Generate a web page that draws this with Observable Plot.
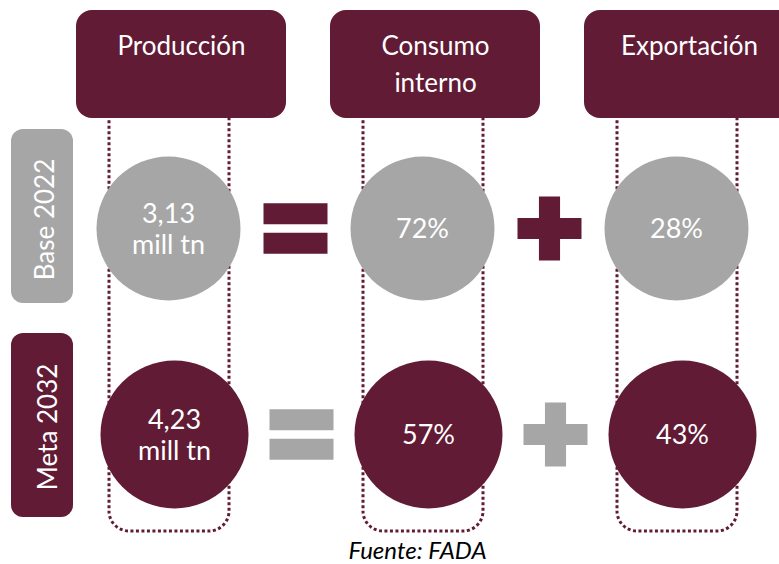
<!DOCTYPE html>
<html>
<head>
<meta charset="utf-8">
<script src="https://cdn.jsdelivr.net/npm/d3@7"></script>
<script src="https://cdn.jsdelivr.net/npm/@observablehq/plot@0.6"></script>
<style>
  body { margin: 0; background: #ffffff; }
  #chart svg { display: block; }
  #caption {
    width: 779px; box-sizing: border-box; padding-left: 56px;
    text-align: center; font-family: Lato, sans-serif; font-style: italic;
    font-size: 24px; line-height: 27px; color: #000000;
  }
</style>
</head>
<body>
<div id="chart"></div>
<div id="caption">Fuente: FADA</div>
<script>
// ---- data ----
const columns = ["Producción", "Consumo interno", "Exportación"];
const headerLabels = ["Producción", "Consumo\ninterno", "Exportación"];
const rows = ["Base 2022", "Meta 2032"];
const produccion = ["3,13", "4,23"];      // mill tn
const produccionUnit = "mill tn";
const consumoInterno = [72, 57];          // %
const exportacion = [28, 43];             // %
const operators = ["=", "+"];             // between consecutive columns

// ---- styles ----
const MAROON = "#611b35";
const GRAY = "#a6a6a6";
const rowStyle = [
  {fill: GRAY, opFill: MAROON, dx: -3, r: 72, insetTop: 4, insetBottom: 28, labelDx: 45, labelDy: -9},
  {fill: MAROON, opFill: GRAY, dx: 3, r: 74, insetTop: 2, insetBottom: 20, labelDx: 48, labelDy: -7.5}
];
const HALF_STEP = 127;

// custom operator symbols
const equalsSymbol = {
  draw(ctx, size) {
    const a = Math.sqrt(size / Math.PI), g = 0.13 * a, t = 0.66 * a;
    ctx.rect(-a, -g - t, 2 * a, t);
    ctx.rect(-a, g, 2 * a, t);
  }
};
const plusSymbol = {
  draw(ctx, size) {
    const a = Math.sqrt(size / Math.PI), h = 0.33 * a;
    ctx.moveTo(-a, -h); ctx.lineTo(-h, -h); ctx.lineTo(-h, -a); ctx.lineTo(h, -a);
    ctx.lineTo(h, -h); ctx.lineTo(a, -h); ctx.lineTo(a, h); ctx.lineTo(h, h);
    ctx.lineTo(h, a); ctx.lineTo(-h, a); ctx.lineTo(-h, h); ctx.lineTo(-a, h);
    ctx.closePath();
  }
};
const symbolFor = {"=": equalsSymbol, "+": plusSymbol};

// ---- table ----
const cells = rows.flatMap((row, i) => [
  {row, col: columns[0], label: produccion[i] + "\n" + produccionUnit},
  {row, col: columns[1], label: consumoInterno[i] + "%"},
  {row, col: columns[2], label: exportacion[i] + "%"}
]);
const ops = rows.flatMap((row, i) => operators.map((op, k) => ({row, col: columns[k], op})));

const marks = [
  // dotted column frames
  Plot.cell(columns, {x: d => d, fill: "none", stroke: MAROON, strokeWidth: 3, strokeDasharray: "3 2.5",
    insetLeft: 65, insetRight: 69, insetTop: 60, insetBottom: 5, rx: 20}),
  // headers
  Plot.cell(columns, {x: d => d, fill: MAROON, insetLeft: 32, insetRight: 12, insetTop: 10, insetBottom: 418, rx: 16}),
  Plot.text(columns, {x: d => d, text: (d, i) => headerLabels[i], frameAnchor: "top", lineAnchor: "top",
    textAnchor: "middle", dx: 10, dy: 28, lineHeight: 1.42, fontSize: 26, fill: "white"})
];

rows.forEach((row, i) => {
  const s = rowStyle[i];
  const rowCells = cells.filter(d => d.row === row);
  marks.push(
    Plot.cell([row], {y: d => d, fill: s.fill, insetLeft: 11, insetRight: 706,
      insetTop: s.insetTop, insetBottom: s.insetBottom, rx: 12}),
    Plot.text([row], {y: d => d, text: d => d, frameAnchor: "left", textAnchor: "middle", lineAnchor: "middle",
      rotate: -90, dx: s.labelDx, dy: s.labelDy, fontSize: 26, fill: "white"}),
    Plot.dot(rowCells, {x: "col", y: "row", r: s.r, fill: s.fill, dx: s.dx}),
    Plot.text(rowCells, {x: "col", y: "row", text: "label", dx: s.dx, fontSize: 27, lineHeight: 1.15, fill: "white"})
  );
  operators.forEach(op => {
    marks.push(Plot.dot(ops.filter(d => d.row === row && d.op === op),
      {x: "col", y: "row", r: 32, symbol: symbolFor[op], fill: s.opFill, stroke: "none", dx: HALF_STEP + s.dx}));
  });
});

const chart = Plot.plot({
  width: 779,
  height: 536,
  margin: 0,
  style: {fontFamily: "Lato, sans-serif", background: "#ffffff"},
  x: {type: "band", domain: columns, range: [44, 806], padding: 0, axis: null},
  y: {type: "band", domain: rows, range: [125, 537], padding: 0, axis: null},
  marks
});
document.getElementById("chart").appendChild(chart);
</script>
</body>
</html>
